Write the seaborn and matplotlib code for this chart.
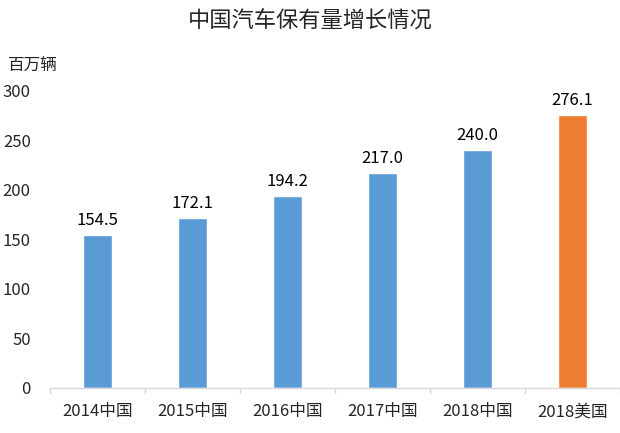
import matplotlib
matplotlib.use("Agg")
import matplotlib.pyplot as plt
import seaborn as sns
import pandas as pd

# Data
categories = ["2014中国", "2015中国", "2016中国", "2017中国", "2018中国", "2018美国"]
values = [154.5, 172.1, 194.2, 217.0, 240.0, 276.1]
country = ["中国", "中国", "中国", "中国", "中国", "美国"]

sns.set_style("white")
plt.rcParams["font.family"] = ["Noto Sans CJK SC", "DejaVu Sans"]

df = pd.DataFrame({"category": categories, "value": values, "country": country})

fig = plt.figure(figsize=(6.2, 4.33), dpi=100)
ax = fig.add_axes([0.081, 0.104, 0.919, 0.686])

sns.barplot(data=df, x="category", y="value", hue="country",
            palette={"中国": "#5B9BD5", "美国": "#ED7D31"},
            width=0.3, dodge=False, legend=False, ax=ax, saturation=1)

for i, v in enumerate(values):
    ax.text(i, v + 6, f"{v:.1f}", ha="center", va="bottom", fontsize=12, color="#000000")

ax.set_ylim(0, 300)
ax.set_xlim(-0.5, len(categories) - 0.5)
ax.set_yticks(range(0, 301, 50))
ax.set_xlabel("")
ax.set_ylabel("")
ax.tick_params(axis="y", labelsize=12, length=0, pad=14)
ax.tick_params(axis="x", labelsize=12, length=0, pad=11)

# tick marks between categories
for b in [i - 0.5 for i in range(len(categories) + 1)]:
    ax.plot([b, b], [0, -5], color="#D9D9D9", lw=1, clip_on=False)

for s in ["top", "right", "left"]:
    ax.spines[s].set_visible(False)
ax.spines["bottom"].set_color("#D9D9D9")
ax.spines["bottom"].set_linewidth(1)

fig.text(0.5, 0.952, "中国汽车保有量增长情况", ha="center", va="center", fontsize=16)
fig.text(0.013, 0.85, "百万辆", ha="left", va="center", fontsize=12)

fig.savefig("out.png", dpi=100)
